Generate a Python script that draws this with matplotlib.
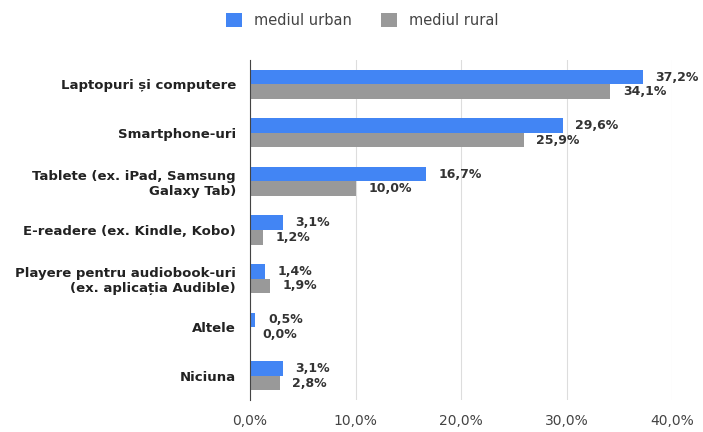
import matplotlib.pyplot as plt
import numpy as np

categories = ["Laptopuri și computere", "Smartphone-uri", "Tablete (ex. iPad, Samsung\nGalaxy Tab)",
              "E-readere (ex. Kindle, Kobo)", "Playere pentru audiobook-uri\n(ex. aplicația Audible)",
              "Altele", "Niciuna"]
urban = [37.2, 29.6, 16.7, 3.1, 1.4, 0.5, 3.1]
rural = [34.1, 25.9, 10.0, 1.2, 1.9, 0.0, 2.8]
xticks = [0, 10, 20, 30, 40]

plt.rcParams['font.family'] = ['DejaVu Sans']

blue = "#4285f4"
gray = "#999999"

fig = plt.figure(figsize=(7.03, 4.32), dpi=100)
ax = fig.add_axes([0.3556, 0.074, 0.601, 0.787])

y = np.arange(len(categories))
h = 0.3
ax.barh(y - h / 2, urban, height=h, color=blue, label="mediul urban", zorder=3)
ax.barh(y + h / 2, rural, height=h, color=gray, label="mediul rural", zorder=3)

for i in range(len(categories)):
    ax.text(urban[i] + 1.2, y[i] - h / 2, f"{urban[i]:.1f}%".replace(".", ","),
            va="center", ha="left", fontsize=9, fontweight="bold", color="#333333", zorder=4)
    ax.text(rural[i] + 1.2, y[i] + h / 2, f"{rural[i]:.1f}%".replace(".", ","),
            va="center", ha="left", fontsize=9, fontweight="bold", color="#333333", zorder=4)

ax.set_ylim(len(categories) - 0.5, -0.5)
ax.set_xlim(0, 40)
ax.set_yticks(y)
ax.set_yticklabels(categories, fontsize=9.5, fontweight="bold", color="#222222")
ax.set_xticks(xticks)
ax.set_xticklabels([f"{t:.1f}%".replace(".", ",") for t in xticks], fontsize=10, color="#444444")
ax.tick_params(length=0)
ax.tick_params(axis="y", pad=10)
ax.tick_params(axis="x", pad=10)

ax.grid(axis="x", color="#dddddd", linewidth=0.8, zorder=0)
for s in ["top", "right", "bottom"]:
    ax.spines[s].set_visible(False)
ax.spines["left"].set_color("#444444")
ax.spines["left"].set_zorder(5)

fig.legend(loc="upper center", bbox_to_anchor=(0.515, 1.0), ncol=2, frameon=False,
           fontsize=10.5, handlelength=1.1, handleheight=1.1, columnspacing=2.0,
           labelcolor="#444444")

plt.savefig("out.png", dpi=100)
